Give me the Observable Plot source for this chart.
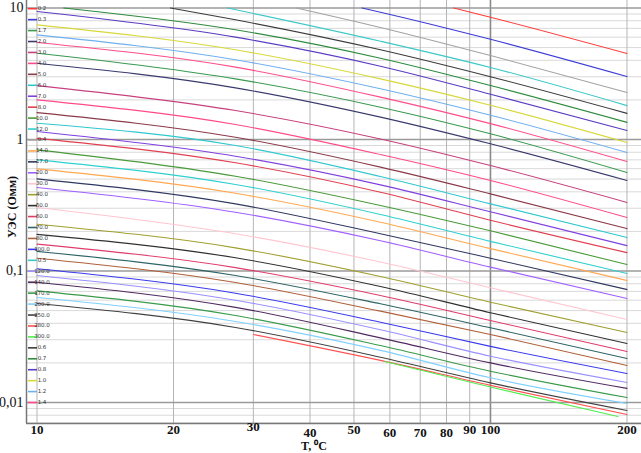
<!DOCTYPE html>
<html>
<head>
<meta charset="utf-8">
<script src="https://cdn.jsdelivr.net/npm/d3@7"></script>
<script src="https://cdn.jsdelivr.net/npm/@observablehq/plot@0.6"></script>
<style>
  html, body { margin: 0; padding: 0; background: #fff; }
  #chart { width: 641px; height: 453px; overflow: hidden; }
</style>
</head>
<body>
<div id="chart"></div>
<script>
// ---- Data: [temperature °C, resistivity Ohm·m] per curve ----
const s0_2 = [[83,10],[100,8.51],[200,4.51]];
const s0_3 = [[52.1,10],[57.2,9.29],[100,5.78],[200,3.01]];
const s0_4 = [[37.3,10],[57.2,7.11],[100,4.35],[200,2.28]];
const s0_5 = [[26.3,10],[57.2,5.59],[100,3.53],[200,1.81]];
const s0_6 = [[19.7,10],[27.4,8.13],[57.2,4.81],[100,3.00],[200,1.58]];
const s0_7 = [[11.45,10],[27.4,6.83],[57.2,4.15],[100,2.57],[200,1.35]];
const s0_8 = [[10,9.41],[27.4,6.00],[57.2,3.61],[100,2.21],[200,1.17]];
const s1_0 = [[10,7.44],[27.4,4.81],[57.2,2.89],[100,1.82],[200,0.949]];
const s1_2 = [[10,6.24],[27.4,4.04],[57.2,2.43],[100,1.53],[200,0.796]];
const s1_4 = [[10,5.47],[27.4,3.55],[57.2,2.10],[100,1.32],[200,0.680]];
const s1_7 = [[10,4.53],[27.4,2.89],[57.2,1.76],[100,1.105],[200,0.561]];
const s2_0 = [[10,3.80],[27.4,2.47],[57.2,1.48],[100,0.927],[200,0.488]];
const s3_0 = [[10,2.57],[27.4,1.66],[57.2,1.01],[100,0.634],[200,0.332]];
const s4_0 = [[10,2.00],[27.4,1.30],[57.2,0.769],[100,0.488],[200,0.255]];
const s5_0 = [[10,1.60],[27.4,1.04],[57.2,0.616],[100,0.386],[200,0.210]];
const s6_0 = [[10,1.33],[27.4,0.900],[57.2,0.523],[100,0.324],[200,0.180]];
const s7_0 = [[10,1.15],[27.4,0.746],[57.2,0.452],[100,0.282],[200,0.156]];
const s8_0 = [[10,1.02],[27.4,0.665],[57.2,0.397],[100,0.243],[200,0.138]];
const s10 = [[10,0.834],[27.4,0.526],[57.2,0.315],[100,0.202],[200,0.112]];
const s12 = [[10,0.700],[27.4,0.455],[57.2,0.269],[100,0.168],[200,0.0957]];
const s14 = [[10,0.598],[27.4,0.390],[57.2,0.235],[100,0.148],[200,0.0847]];
const s17 = [[10,0.502],[27.4,0.324],[57.2,0.192],[100,0.125],[200,0.0723]];
const s20 = [[10,0.432],[27.4,0.280],[57.2,0.170],[100,0.107],[200,0.0618]];
const s30 = [[10,0.304],[27.4,0.192],[57.2,0.117],[100,0.0745],[200,0.0428]];
const s40 = [[10,0.227],[27.4,0.150],[57.2,0.0908],[100,0.0579],[200,0.0341]];
const s50 = [[10,0.190],[27.4,0.126],[57.2,0.0762],[100,0.0481],[200,0.0281]];
const s60 = [[10,0.160],[27.4,0.106],[57.2,0.0651],[100,0.0420],[200,0.0244]];
const s70 = [[10,0.141],[27.4,0.0924],[57.2,0.0563],[100,0.0370],[200,0.0216]];
const s80 = [[10,0.125],[27.4,0.0818],[57.2,0.0495],[100,0.0329],[200,0.0191]];
const s100 = [[10,0.104],[27.4,0.0678],[57.2,0.0408],[100,0.0267],[200,0.0166]];
const s120 = [[10,0.0924],[27.4,0.0599],[57.2,0.0357],[100,0.0225],[200,0.0142]];
const s140 = [[10,0.0822],[27.4,0.0529],[57.2,0.0310],[100,0.0200],[200,0.0128]];
const s170 = [[10,0.0706],[27.4,0.0459],[57.2,0.0271],[100,0.0173],[200,0.0109]];
const s200 = [[10,0.0629],[27.4,0.0413],[57.2,0.0249],[100,0.0154],[200,0.00983]];
const s250 = [[10,0.0566],[27.4,0.0372],[57.2,0.0221],[100,0.0141],[200,0.00869]];
const s280 = [[30,0.0329],[57.2,0.0209],[100,0.0135],[200,0.00810]];
const s300 = [[58.5,0.0205],[100,0.0131],[191,0.00782]];

// curve labels (concentration) in the same order as the series above
const curveLabels = ["0.2","0.3","0.4","0.5","0.6","0.7","0.8","1.0","1.2","1.4","1.7","2.0",
  "3.0","4.0","5.0","6.0","7.0","8.0","10.0","12.0","14.0","17.0","20.0","30.0","40.0","50.0",
  "60.0","70.0","80.0","100.0","120.0","140.0","170.0","200.0","250.0","280.0","300.0"];
const curveSeries = [s0_2,s0_3,s0_4,s0_5,s0_6,s0_7,s0_8,s1_0,s1_2,s1_4,s1_7,s2_0,
  s3_0,s4_0,s5_0,s6_0,s7_0,s8_0,s10,s12,s14,s17,s20,s30,s40,s50,
  s60,s70,s80,s100,s120,s140,s170,s200,s250,s280,s300];
const curveColors = ["#ff3c3c","#3c3cd6","#a3a3a3","#3cc8c8","#3c3c3c","#2e8b3e","#5a3cc4","#d8d83a","#6fb0f0","#ff4c8c","#3a9a50","#3a3a6e",
  "#c8407e","#ff4a8a","#8b3a48","#30c8d0","#8040e0","#e04050","#4a9a3a","#30d0d0","#ffa850","#303860","#a060ff","#ffc6d0","#a0a030","#303030",
  "#e03c6c","#2f6464","#b0603a","#3a3af0","#9a90ff","#502a60","#3a9a4a","#80d0ff","#404040","#ff5050","#50ee50"];

// legend order as printed in the reference
const legendOrder = ["0.2","0.3","1.7","2.0","3.0","4.0","5.0","6.0","7.0","8.0","10.0","12.0","0.4",
  "14.0","17.0","20.0","30.0","40.0","50.0","60.0","70.0","80.0","100.0","0.5","120.0","140.0",
  "170.0","200.0","250.0","280.0","300.0","0.6","0.7","0.8","1.0","1.2","1.4"];

// axes
const xTicks = [10,20,30,40,50,60,70,80,90,100,200];
const yMajor = [0.01,0.1,1,10];
const yMajorLabels = ["0,01","0,1","1","10"];
const yMinor = [0.007,0.008,0.009,0.02,0.03,0.04,0.05,0.06,0.07,0.08,0.09,
  0.2,0.3,0.4,0.5,0.6,0.7,0.8,0.9,2,3,4,5,6,7,8,9];
const xTitle = "T, \u2070C";
const yTitle = "УЭС (Омм)";

// ---- build table ----
const rows = [];
curveSeries.forEach((s, i) => s.forEach(([T, R]) => rows.push({c: curveLabels[i], T, R})));

const xDomain = [9.481, 215.3];
const yDomain = [0.006923, 11.40];
const serif = "'Liberation Serif','Times New Roman',serif";

const chart = Plot.plot({
  width: 641, height: 453,
  marginLeft: 26, marginRight: 0, marginTop: 0, marginBottom: 30,
  x: {type: "log", domain: xDomain, axis: null},
  y: {type: "log", domain: yDomain, axis: null},
  color: {domain: curveLabels, range: curveColors},
  style: {background: "#fff", overflow: "visible"},
  marks: [
    Plot.ruleY(yMinor, {stroke: "#d9d9d9", strokeWidth: 1}),
    Plot.ruleX(xTicks.filter(d => d !== 100), {stroke: "#b5b5b5", strokeWidth: 1}),
    Plot.ruleX([100], {stroke: "#8a8a8a", strokeWidth: 1.6}),
    Plot.ruleY(yMajor, {stroke: "#9a9a9a", strokeWidth: 1.6}),
    Plot.line(rows, {x: "T", y: "R", z: "c", stroke: "c", strokeWidth: 1.1, curve: "monotone-x"}),
    Plot.ruleX([xDomain[0]], {stroke: "#777", strokeWidth: 1.5}),
    Plot.ruleY([yDomain[0]], {stroke: "#777", strokeWidth: 1.5}),
    Plot.text(xTicks.filter(d => ![30,40,60,70,80].includes(d)), {x: d => d, frameAnchor: "bottom", dy: 10, text: d => String(d), fontFamily: serif, fontWeight: "bold", fontSize: 13, fill: "#111"}),
    Plot.text([30], {x: d => d, frameAnchor: "bottom", dy: 7, text: d => String(d), fontFamily: serif, fontWeight: "bold", fontSize: 13, fill: "#111"}),
    Plot.text([40,60,70,80], {x: d => d, frameAnchor: "bottom", dy: 13, text: d => String(d), fontFamily: serif, fontWeight: "bold", fontSize: 13, fill: "#111"}),
    Plot.text(yMajor, {y: d => d, frameAnchor: "left", dx: -3, textAnchor: "end", text: (d, i) => yMajorLabels[i], fontFamily: serif, fontSize: 14, fill: "#111"})
  ]
});
document.getElementById("chart").appendChild(chart);

// ---- titles and in-plot legend ----
const svg = d3.select(chart);
svg.append("text").attr("x", 314).attr("y", 447.5).attr("text-anchor", "middle").attr("dominant-baseline", "middle")
  .attr("font-family", serif).attr("font-weight", "bold").attr("font-size", 12).attr("fill", "#111").text(xTitle);
svg.append("text").attr("transform", "translate(13,207) rotate(-90)").attr("text-anchor", "middle").attr("dominant-baseline", "middle")
  .attr("font-family", serif).attr("font-weight", "bold").attr("font-size", 12).attr("fill", "#111").text(yTitle);

const colorOf = new Map(curveLabels.map((c, i) => [c, curveColors[i]]));
const lg = svg.append("g");
legendOrder.forEach((c, i) => {
  const y = 8.7 + i * 10.94;
  lg.append("line").attr("x1", 28).attr("x2", 37).attr("y1", y).attr("y2", y)
    .attr("stroke", colorOf.get(c)).attr("stroke-width", 1.6);
  lg.append("text").attr("x", 42).attr("y", y).attr("dominant-baseline", "middle")
    .attr("font-family", "'DejaVu Sans', sans-serif").attr("font-size", 5.5).attr("fill", "#333").text(c);
});
</script>
</body>
</html>
